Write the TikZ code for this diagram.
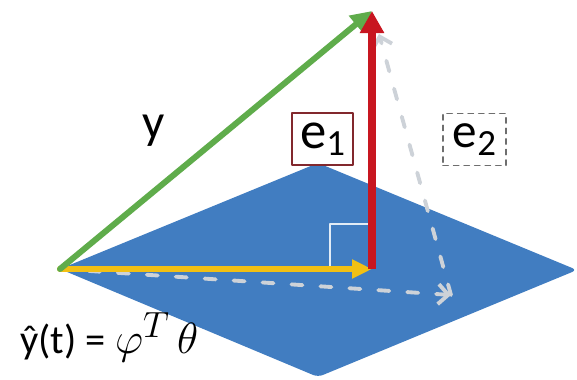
\documentclass[tikz,border=0pt]{standalone}
\usepackage{amsmath,amssymb}
\usepackage{fontspec}
\setsansfont{Carlito}
\usepackage{tikz,tkz-euclide}
\usetikzlibrary{arrows.meta,calc}
\definecolor{planeblue}{RGB}{65,125,193}
\definecolor{vecgreen}{RGB}{95,172,75}
\definecolor{vecred}{RGB}{200,22,32}
\definecolor{vecyellow}{RGB}{242,192,20}
\definecolor{dashgray}{RGB}{205,210,216}
\definecolor{boxred}{RGB}{130,40,45}
\definecolor{boxgray}{RGB}{110,110,110}

\begin{document}
\begin{tikzpicture}[>=stealth, font=\sffamily, line join=round, line cap=round,
        greenvec/.style={draw=vecgreen, line width=3.4pt, -{Triangle[length=0.42cm,width=0.42cm]}},
        redvec/.style={draw=vecred, line width=4.4pt, line cap=butt, -{Triangle[length=0.44cm,width=0.46cm]}},
        yellowvec/.style={draw=vecyellow, line width=3.4pt, -{Triangle[length=0.4cm,width=0.36cm]}},
        dashvec/.style={draw=dashgray, line width=2.2pt, dash pattern=on 0.22cm off 0.36cm, -{Straight Barb[length=0.2cm,width=0.4cm]}},
        labbox/.style={minimum width=#1, minimum height=1.04cm, inner sep=0pt}]
        \useasboundingbox (0,0) rectangle (11.54,7.58);
        \tkzDefPoints{1.2/2.2/O,6.36/4.32/P,11.54/2.18/R,6.36/0.04/B,7.44/7.36/T,9.02/1.68/E}
        \coordinate (Q) at (7.44,2.2);
        \coordinate (S) at (7.58,6.9);
        % the plane
        \fill[planeblue, rounded corners=3pt] (O) -- (P) -- (R) -- (B) -- cycle;
        \draw[white!85!planeblue, line width=0.9pt, line cap=butt] ($(Q)+(-0.84,0.07)$) |- ($(Q)+(-0.08,0.9)$);
        % vectors
        \draw[dashvec] (O) -- (E);
        \draw[dashvec] (E) -- (S);
        \draw[yellowvec] (O) -- (Q);
        \draw[greenvec] (O) -- (T);
        \draw[redvec] (Q) -- (T);
        % labels
        \node[labbox=1.22cm, draw=boxred, line width=1.1pt] (e1) at (6.45,4.8)
                {\fontsize{30}{30}\selectfont e\lower4pt\hbox{\fontsize{21}{21}\selectfont 1}};
        \node[labbox=1.26cm, draw=boxgray, line width=0.9pt, dashed] (e2) at (9.49,4.79)
                {\fontsize{28}{28}\selectfont e\lower5pt\hbox{\fontsize{21}{21}\selectfont 2}};
        \node[anchor=base] (ylab) at (3.08,4.82) {\fontsize{28}{28}\selectfont y};
        \node[anchor=base west, inner sep=0pt] (yhat) at (0.4,0.52)
                {\fontsize{23}{23}\selectfont ŷ(t) = \fontsize{29}{29}\selectfont$\varphi^{T}\,\theta$};
\end{tikzpicture}
\end{document}
